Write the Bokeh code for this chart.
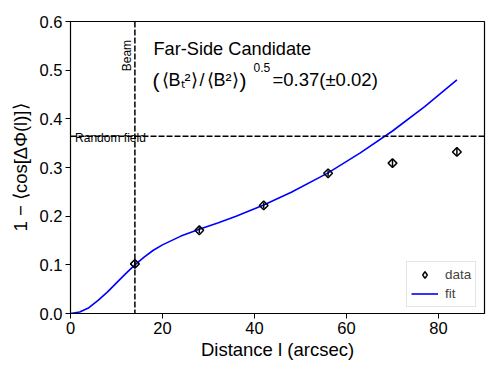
import numpy as np
from bokeh.plotting import figure
from bokeh.models import Range1d, Span, Label, Legend, LegendItem, FixedTicker, CustomJSTickFormatter
from bokeh.embed import file_html
from bokeh.resources import INLINE

# data points
dist = [14, 28, 42, 56, 70, 84]
vals = [0.102, 0.171, 0.222, 0.288, 0.309, 0.332]
errs = [0.008, 0.006, 0.006, 0.006, 0.008, 0.008]

# fit curve
fit_x = [0, 2, 4, 6, 8, 10, 12, 14, 16, 18, 20, 24, 28, 32, 36, 42, 48, 56, 63, 70, 77, 84]
fit_y = [0.0, 0.003, 0.012, 0.027, 0.044, 0.063, 0.082, 0.100, 0.116, 0.130, 0.141,
         0.159, 0.173, 0.186, 0.200, 0.223, 0.249, 0.289, 0.330, 0.375, 0.425, 0.480]

beam = 14
random_field = 0.364

x_ticks = [0, 20, 40, 60, 80]
y_ticks = [0.0, 0.1, 0.2, 0.3, 0.4, 0.5, 0.6]

FONT = "Liberation Sans"

p = figure(width=490, height=366, output_backend="svg", toolbar_location=None,
           x_range=Range1d(0, 90), y_range=Range1d(0, 0.6),
           min_border_left=70, min_border_right=6, min_border_top=21, min_border_bottom=53)
p.grid.visible = False
p.outline_line_color = "black"
p.outline_line_width = 1.2

for ax in (p.xaxis[0], p.yaxis[0]):
    ax.major_label_text_font = FONT
    ax.major_label_text_font_size = "16.5px"
    ax.major_label_text_color = "black"
    ax.axis_label_text_font = FONT
    ax.axis_label_text_font_size = "18.5px"
    ax.axis_label_text_font_style = "normal"
    ax.axis_label_text_color = "black"
    ax.minor_tick_line_color = None
    ax.major_tick_out = 5
    ax.major_tick_in = 0
    ax.axis_line_color = "black"
    ax.major_tick_line_color = "black"
    ax.major_label_standoff = 3

p.xaxis.ticker = FixedTicker(ticks=x_ticks)
p.yaxis.ticker = FixedTicker(ticks=y_ticks)
p.yaxis.formatter = CustomJSTickFormatter(code="return tick.toFixed(1);")
p.xaxis.axis_label = "Distance l (arcsec)"
p.yaxis.axis_label = "1 − ⟨cos[ΔΦ(l)]⟩"
p.xaxis.axis_label_standoff = 2
p.yaxis.axis_label_standoff = 6

# reference lines
p.add_layout(Span(location=beam, dimension="height", line_color="black",
                  line_dash="6 2", line_width=1.5))
p.add_layout(Span(location=random_field, dimension="width", line_color="black",
                  line_dash="6 2", line_width=1.5))

p.text(x=[beam], y=[0.53], text=["Beam"], angle=np.pi / 2, text_align="center",
       text_baseline="bottom", x_offset=-1, text_font_size="12px", text_color="black",
       text_font={"value": FONT})
p.text(x=[1.0], y=[random_field], text=["Random field"], text_align="left",
       text_baseline="alphabetic", y_offset=1.5, text_font_size="12px", text_color="black",
       text_font={"value": FONT})

# fit
fit_r = p.line(fit_x, fit_y, line_color="#0000ff", line_width=1.6)

# error bars
lo = [v - e for v, e in zip(vals, errs)]
hi = [v + e for v, e in zip(vals, errs)]
p.segment(x0=dist, y0=lo, x1=dist, y1=hi, line_color="black", line_width=1.5)
p.scatter(dist, vals, marker="square", angle=np.pi / 4, size=6.2,
          fill_color=None, line_color="black", line_width=1.5)
# legend-only glyph (hidden)
data_leg = p.scatter(dist, vals, marker="diamond", size=11,
                     fill_color=None, line_color="black", line_width=1.5)
data_leg.visible = False

# annotations
def lab(x, y, t, size):
    p.add_layout(Label(x=x, y=y, x_units="screen", y_units="screen", text=t,
                       text_font=FONT, text_font_size=size, text_color="black",
                       text_baseline="alphabetic"))

lab(83, 265, "Far-Side Candidate", "18.2px")
lab(82, 233, "(", "21px")
lab(91, 234, "⟨Bₜ²⟩", "18px")
lab(129, 234, "/", "18px")
lab(136, 234, "⟨B²⟩", "18px")
lab(169, 233, ")", "21px")
lab(183, 246, "0.5", "12px")
lab(202, 234, "=0.37(±0.02)", "18.5px")

legend = Legend(items=[LegendItem(label="data", renderers=[data_leg]),
                       LegendItem(label="fit", renderers=[fit_r])],
                location=(336, 6), margin=0, padding=4, spacing=2,
                glyph_width=27, glyph_height=17, label_height=17, label_standoff=7,
                label_text_font=FONT, label_text_font_size="13.5px",
                border_line_color="#cccccc", border_line_width=1,
                background_fill_alpha=0.8)
p.add_layout(legend)

open("out.html", "w").write(file_html(p, INLINE))
